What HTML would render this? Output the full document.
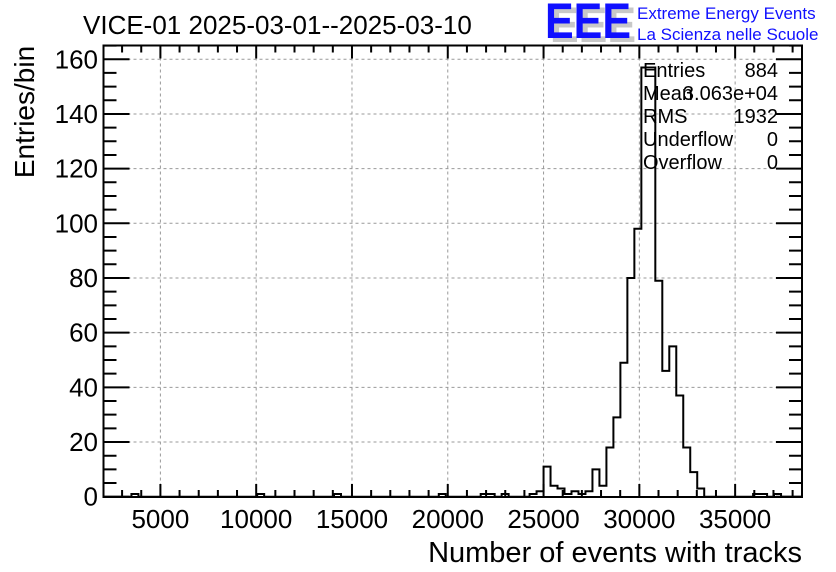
<!DOCTYPE html>
<html><head><meta charset="utf-8"><style>
html,body{margin:0;padding:0;background:#fff;}
svg{display:block;font-family:"Liberation Sans",sans-serif;}
</style></head><body>
<svg id="chart" width="836" height="572" viewBox="0 0 836 572" xmlns="http://www.w3.org/2000/svg">
<rect width="836" height="572" fill="#fff"/>
<g id="grid"></g>
<g id="ticks"></g>
<path id="hist" fill="none" stroke="#000" stroke-width="2"/>
<rect x="103.5" y="45.5" width="698.5" height="451.5" fill="none" stroke="#000" stroke-width="2"/>
<text x="83" y="34" font-size="26">VICE-01 2025-03-01--2025-03-10</text>
<text x="34" y="112" font-size="28" transform="rotate(-90 34 112)" text-anchor="middle">Entries/bin</text>
<text x="802" y="562" font-size="29" text-anchor="end">Number of events with tracks</text>
<g>
<text x="550" y="42" font-size="50" font-weight="bold" fill="#c8c8c8" textLength="86" lengthAdjust="spacingAndGlyphs">EEE</text>
<text x="545" y="38" font-size="50" font-weight="bold" fill="#1010ff" textLength="86" lengthAdjust="spacingAndGlyphs">EEE</text>
<text x="637" y="19" font-size="17" fill="#1010ff">Extreme Energy Events</text>
<text x="637" y="40" font-size="17" fill="#1010ff">La Scienza nelle Scuole</text>
</g>
<g font-size="20">
<text x="643" y="77">Entries</text><text x="778" y="77" text-anchor="end">884</text>
<text x="643" y="100">Mean</text><text x="778" y="100" text-anchor="end">3.063e+04</text>
<text x="643" y="123">RMS</text><text x="778" y="123" text-anchor="end">1932</text>
<text x="643" y="146">Underflow</text><text x="778" y="146" text-anchor="end">0</text>
<text x="643" y="169">Overflow</text><text x="778" y="169" text-anchor="end">0</text>
</g>
<g id="labels"></g>
</svg>
<script>
const xMin = 2030, xMax = 38490, nBins = 100;
const binIndices = [4,22,33,48,54,55,57,61,62,63,64,65,66,67,68,69,70,71,72,73,74,75,76,77,78,79,80,81,82,83,84,85,93,94,96];
const binCounts  = [1,1,1,1,1,1,1,1,2,11,4,3,1,2,1,2,10,4,18,29,49,80,98,157,157,79,46,55,37,18,9,3,1,1,1];
const xTickLabels = [5000,10000,15000,20000,25000,30000,35000];
const yTickLabels = [0,20,40,60,80,100,120,140,160];
const L=103.5,R=802,T=45.5,B=497;
function xs(v){return L+(v-xMin)/(xMax-xMin)*(R-L);}
function ys(v){return 496.7-v*2.734;}
const NS="http://www.w3.org/2000/svg";
function mk(tag,attrs,parent){const e=document.createElementNS(NS,tag);for(const k in attrs)e.setAttribute(k,attrs[k]);parent.appendChild(e);return e;}
const grid=document.getElementById('grid'),ticks=document.getElementById('ticks'),labels=document.getElementById('labels');
xTickLabels.forEach(v=>{const x=xs(v);
 const g=mk('line',{x1:x,x2:x,y1:T,y2:B,stroke:'#999','stroke-dasharray':'3,3','stroke-width':1},grid);
 
 
 const t=mk('text',{x:x,y:528,'font-size':26,'text-anchor':'middle'},labels);t.textContent=v;
 
 
});
yTickLabels.forEach(v=>{const y=ys(v);
 if(v>0&&v<165){const g=mk('line',{x1:L,x2:R,y1:y,y2:y,stroke:'#999','stroke-dasharray':'3,3','stroke-width':1},grid);
 
 }
 const t=mk('text',{x:98,y:y+9,'font-size':26,'text-anchor':'end'},labels);t.textContent=v;
 
 
});
let d='';
for(let v=3000;v<=38000;v+=1000){const x=xs(v);const len=(v%5000===0)?13:7;d+=`M${x},${B}v${-len}M${x},${T}v${len}`;}
for(let v=0;v<=165;v+=5){const y=ys(v);if(y<T)continue;const len=(v%20===0)?26:13;d+=`M${L},${y}h${len}M${R},${y}h${-len}`;}
const tp=mk('path',{d:d,stroke:'#000','stroke-width':2,fill:'none'},ticks);


const counts=new Array(nBins).fill(0);
binIndices.forEach((b,i)=>counts[b]=binCounts[i]);
const bw=(xMax-xMin)/nBins;
let p=`M${xs(xMin)},${ys(0)}`;
for(let i=0;i<nBins;i++){const x0=xs(xMin+i*bw),x1=xs(xMin+(i+1)*bw),y=ys(counts[i]);p+=`L${x0},${y}L${x1},${y}`;}
p+=`L${xs(xMax)},${ys(0)}`;
document.getElementById('hist').setAttribute('d',p);
</script>
</body></html>
